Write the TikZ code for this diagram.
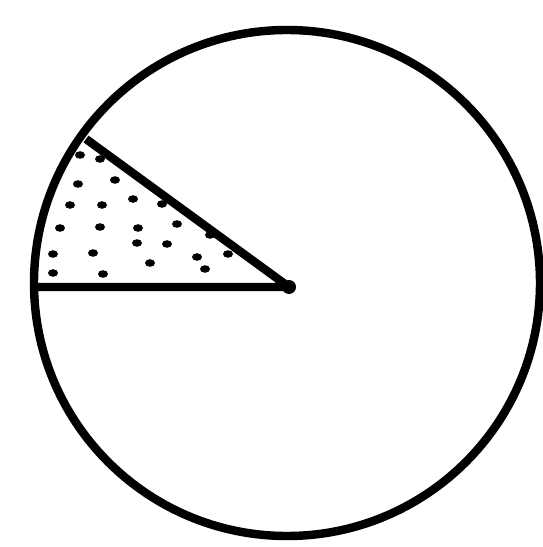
\documentclass[tikz,border=0pt]{standalone}
\begin{document}
\begin{tikzpicture}[x=0.02cm,y=-0.02cm,
    rim/.style={line width=4.8pt},
    stipple/.style={fill=black}]
    \useasboundingbox (0,0) rectangle (542,547);
    % centre and the two ends of the radii
    \coordinate (O) at (289,287);
    \coordinate (A) at (35,287);
    \coordinate (B) at (86,139);
    % Draw the circle
    \draw[rim] (287,283) circle (253);
    % Draw the dots of the shaded sector
    \foreach \x/\y in {80/155, 100/159, 78/184, 115/180, 70/205, 102/205,
        133/199, 162/204, 60/228, 100/227, 138/228, 177/224, 210/235,
        53/254, 93/253, 137/243, 167/244, 197/257, 228/254,
        53/273, 103/274, 150/263, 205/269}
        \fill[stipple] (\x,\y) ellipse (5 and 3.8);
    % Draw the radii
    \draw[rim, line join=round] (A) -- (O) -- (B);
    \fill (O) circle (7);
\end{tikzpicture}
\end{document}
